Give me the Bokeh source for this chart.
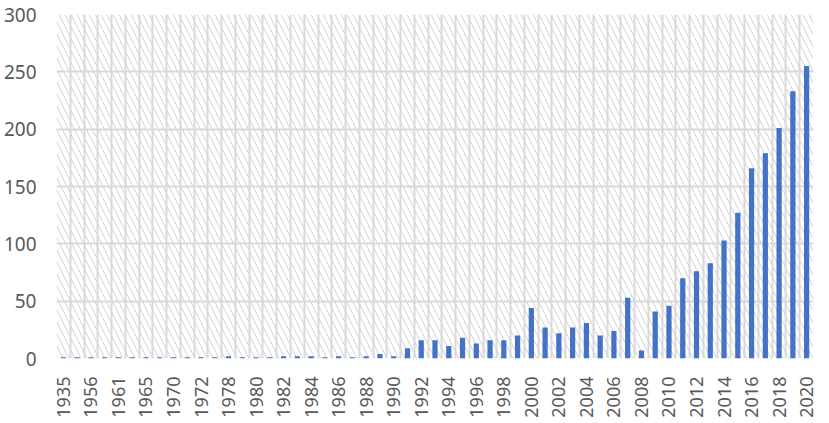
from bokeh.plotting import figure
from bokeh.models import Range1d, FixedTicker, BoxAnnotation, ColumnDataSource
from bokeh.embed import file_html
from bokeh.resources import INLINE

# categories (every other one is labelled on the axis)
years = ["1935", "1948", "1956", "1959", "1961", "1963", "1965", "1968",
         "1970", "1971", "1972", "1975"] + [str(y) for y in range(1978, 2021)]

counts = [1, 1, 1, 1, 1, 1, 1, 1, 1, 1, 1, 1,        # 1935 .. 1975
          2, 1, 1, 1, 2, 2, 2, 1, 2, 1, 2, 4, 2, 9,   # 1978 .. 1991
          16, 16, 11, 18, 13, 16, 16, 20,             # 1992 .. 1999
          44, 27, 22, 27, 31, 20, 24, 53, 7, 41,      # 2000 .. 2009
          46, 70, 76, 83, 103, 127, 166, 179, 201, 233, 255]  # 2010 .. 2020

y_ticks = [0, 50, 100, 150, 200, 250, 300]

idx = list(range(len(years)))
src = ColumnDataSource(dict(pos=idx, year=years, count=counts))

p = figure(width=821, height=422, output_backend="svg", toolbar_location=None,
           x_range=Range1d(-0.5, len(years) - 0.5),
           y_range=Range1d(0, 300),
           min_border_left=48, min_border_right=8, min_border_top=14,
           min_border_bottom=64)
p.outline_line_color = None
p.background_fill_color = "white"

bg = BoxAnnotation(fill_alpha=0, line_color=None, hatch_pattern="\\",
                   hatch_color="#d2d2d2", hatch_scale=12, hatch_weight=1, level="image")
p.add_layout(bg)

p.vbar(x="pos", top="count", width=0.38, source=src,
       fill_color="#4472C4", line_color=None)

grid_col = "#d9d9d9"
p.ygrid.ticker = FixedTicker(ticks=y_ticks)
p.ygrid.grid_line_color = grid_col
p.ygrid.grid_line_width = 2
p.xgrid.ticker = FixedTicker(ticks=[i - 0.5 for i in range(len(years) + 1)])
p.xgrid.grid_line_color = grid_col
p.xgrid.grid_line_width = 2

p.yaxis.ticker = FixedTicker(ticks=y_ticks)
p.yaxis.axis_line_color = None
p.yaxis.major_tick_line_color = None
p.yaxis.minor_tick_line_color = None
p.yaxis.major_label_standoff = 14
p.yaxis.major_label_text_font = "Noto Sans"
p.yaxis.major_label_text_font_size = "19px"
p.yaxis.major_label_text_color = "#595959"

p.xaxis.ticker = FixedTicker(ticks=idx[::2], minor_ticks=[])
p.xaxis.major_label_overrides = {i: years[i] for i in idx[::2]}
p.xaxis.axis_line_color = None
p.xaxis.major_tick_line_color = None
p.xaxis.minor_tick_line_color = None
p.xaxis.major_label_standoff = 12
p.xaxis.major_label_orientation = 1.5707963
p.xaxis.major_label_text_font = "Noto Sans"
p.xaxis.major_label_text_font_size = "18px"
p.xaxis.major_label_text_color = "#595959"

open("out.html", "w").write(file_html(p, INLINE))
